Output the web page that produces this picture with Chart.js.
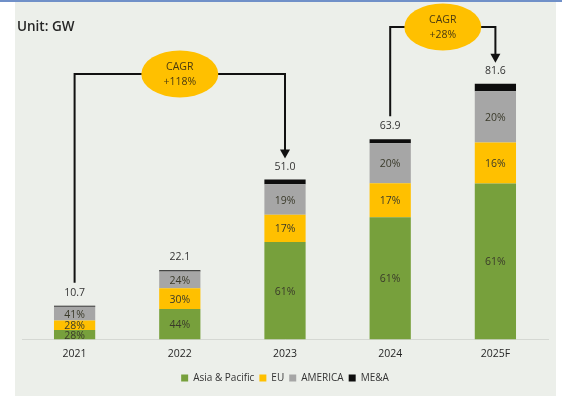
<!DOCTYPE html>
<html>
<head>
<meta charset="utf-8">
<script src="https://cdn.jsdelivr.net/npm/chart.js@4"></script>
<style>
    html, body { margin: 0; padding: 0; background: #fff; }
    #wrap { width: 562px; height: 396px; position: relative; }
</style>
</head>
<body>
<div id="wrap"><canvas id="chartCanvas" width="562" height="396"></canvas></div>
<script>
// =========================
// Data (GW totals + regional shares in %)
// =========================
const years = ["2021", "2022", "2023", "2024", "2025F"];
const totals = [10.7, 22.1, 51.0, 63.9, 81.6];
const asiaPct = [28, 44, 61, 61, 61];
const euPct = [28, 30, 17, 17, 16];
const americaPct = [41, 24, 19, 20, 20];
const meaPct = [3, 2, 3, 2, 3];

// CAGR call-outs between two years
const cagrNotes = [
    { from: 0, to: 2, text: "+118%", level: 84.7 },
    { from: 3, to: 4, text: "+28%", level: 99.7 }
];

const FONT = "'Open Sans', 'Noto Sans', sans-serif";

// share -> GW for the stacked segments
const toGW = pct => pct.map((p, i) => totals[i] * p / 100);

const series = [
    { label: "Asia & Pacific", pct: asiaPct, color: "#77A03C" },
    { label: "EU", pct: euPct, color: "#FFC000" },
    { label: "AMERICA", pct: americaPct, color: "#A6A6A6" },
    { label: "ME&A", pct: meaPct, color: "#0D0D0D" }
];

// =========================
// Plugins
// =========================
const panelBg = {
    id: "panelBg",
    beforeDraw(chart) {
        const c = chart.ctx;
        c.save();
        c.fillStyle = "#ffffff";
        c.fillRect(0, 0, chart.width, chart.height);
        c.fillStyle = "#ECEFEA";
        c.fillRect(15, 0, 541, chart.height);
        c.fillStyle = "#7090C8";
        c.fillRect(0, 0, chart.width, 2);

        c.fillStyle = "#262626";
        c.font = "600 13.5px " + FONT;
        c.textBaseline = "middle";
        c.fillText("Unit: GW", 17, 27);
        c.restore();
    }
};

const barLabels = {
    id: "barLabels",
    afterDatasetsDraw(chart) {
        const c = chart.ctx;
        c.save();
        c.textAlign = "center";
        c.textBaseline = "middle";
        c.font = "10.5px " + FONT;

        // percentage inside each segment (not for ME&A)
        series.slice(0, 3).forEach((s, di) => {
            chart.getDatasetMeta(di).data.forEach((bar, i) => {
                c.fillStyle = "#3a3a2a";
                c.fillText(s.pct[i] + "%", bar.x, (bar.y + bar.base) / 2 + 1);
            });
        });

        // total on top of the stack
        const topMeta = chart.getDatasetMeta(series.length - 1);
        topMeta.data.forEach((bar, i) => {
            c.fillStyle = "#333";
            c.fillText(totals[i].toFixed(1), bar.x, bar.y - 13);
        });
        c.restore();
    }
};

const cagrArrows = {
    id: "cagrArrows",
    afterDraw(chart) {
        const c = chart.ctx;
        const xs = chart.scales.x;
        const ys = chart.scales.y;
        const topMeta = chart.getDatasetMeta(series.length - 1);

        cagrNotes.forEach(n => {
            const x0 = xs.getPixelForValue(n.from);
            const x1 = xs.getPixelForValue(n.to);
            const yTop = ys.getPixelForValue(n.level);
            const y0 = topMeta.data[n.from].y - 23;
            const y1 = topMeta.data[n.to].y - 21;

            c.save();
            c.strokeStyle = "#111";
            c.lineWidth = 2;
            c.beginPath();
            c.moveTo(x0, y0);
            c.lineTo(x0, yTop);
            c.lineTo(x1, yTop);
            c.lineTo(x1, y1 - 8);
            c.stroke();

            // arrow head
            c.fillStyle = "#111";
            c.beginPath();
            c.moveTo(x1 - 5, y1 - 9);
            c.lineTo(x1 + 5, y1 - 9);
            c.lineTo(x1, y1);
            c.closePath();
            c.fill();

            // yellow bubble
            const cx = (x0 + x1) / 2;
            c.fillStyle = "#FFC000";
            c.beginPath();
            c.ellipse(cx, yTop, 38.5, 23.5, 0, 0, Math.PI * 2);
            c.fill();

            c.fillStyle = "#4a3a10";
            c.font = "10.5px " + FONT;
            c.textAlign = "center";
            c.textBaseline = "middle";
            c.fillText("CAGR", cx, yTop - 7);
            c.fillText(n.text, cx, yTop + 8);
            c.restore();
        });
    }
};

// =========================
// Chart
// =========================
const ctx = document.getElementById("chartCanvas").getContext("2d");

new Chart(ctx, {
    type: "bar",
    data: {
        labels: years,
        datasets: series.map(s => ({
            label: s.label,
            data: toGW(s.pct),
            backgroundColor: s.color,
            borderWidth: 0,
            barPercentage: 0.8,
            categoryPercentage: 0.49
        }))
    },
    options: {
        responsive: false,
        animation: false,
        layout: { padding: { left: 22, right: 14, top: 26, bottom: 3 } },
        plugins: {
            legend: {
                position: "bottom",
                labels: {
                    usePointStyle: true,
                    pointStyle: "rect",
                    boxWidth: 7,
                    boxHeight: 7,
                    padding: 5,
                    color: "#333",
                    font: { family: FONT, size: 10 }
                }
            },
            tooltip: { enabled: false }
        },
        scales: {
            x: {
                stacked: true,
                grid: { display: false },
                border: { color: "#D5D8D3", width: 1 },
                ticks: { color: "#262626", padding: 0, font: { family: FONT, size: 10.5 } },
                // leave room between the year labels and the legend
                afterFit: scale => { scale.height += 8; }
            },
            y: {
                stacked: true,
                display: false,
                min: 0,
                max: 100
            }
        }
    },
    plugins: [panelBg, barLabels, cagrArrows]
});
</script>
</body>
</html>
